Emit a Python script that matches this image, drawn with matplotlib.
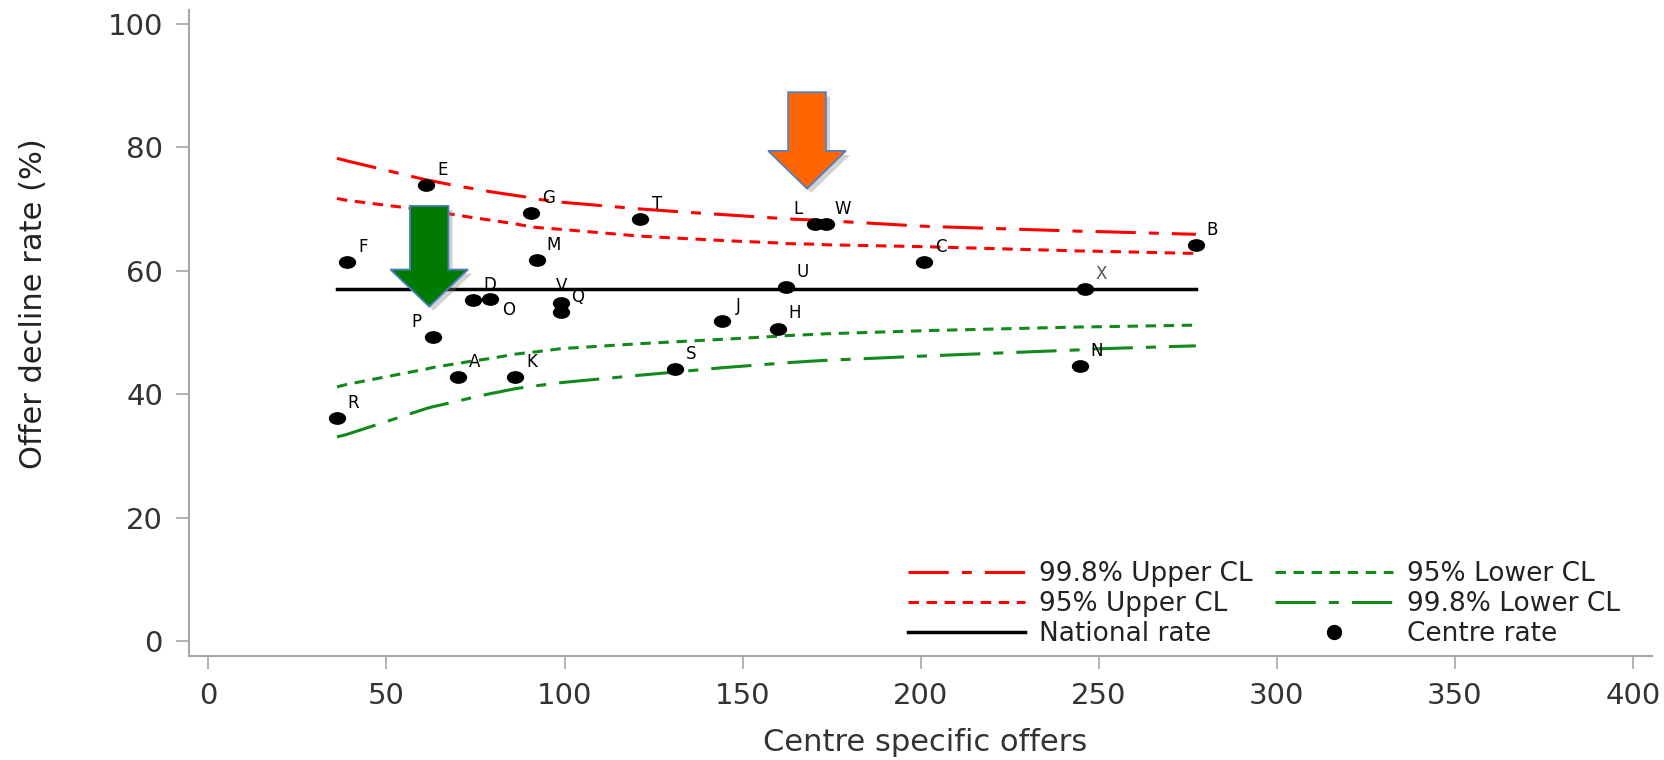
import matplotlib
matplotlib.use("Agg")
import numpy as np
import matplotlib.pyplot as plt
from matplotlib.path import Path
from matplotlib.patches import FancyArrow
from matplotlib.lines import Line2D
import matplotlib.patheffects as pe

plt.rcParams['font.family'] = ['DejaVu Sans']
plt.rcParams['lines.scale_dashes'] = False

# Centre-level data: number of offers and offer decline rate (%)
centres = ["R", "F", "E", "P", "A", "D", "O", "K", "G", "M", "V", "Q",
           "T", "S", "J", "H", "U", "L", "W", "C", "N", "X", "B"]
offers = [36.1, 38.8, 61.2, 63.1, 70.0, 74.3, 79.1, 86.1, 90.7, 92.3, 99.1, 99.1,
          121.3, 131.0, 144.2, 160.0, 162.2, 170.2, 173.5, 201.0, 244.7, 246.1, 277.3]
decline = [36.1, 61.45, 73.85, 49.2, 42.8, 55.2, 55.5, 42.8, 69.3, 61.7, 54.8, 53.35,
           68.35, 44.1, 51.9, 50.65, 57.3, 67.5, 67.5, 61.45, 44.6, 57.0, 64.1]

national_rate = 57.1

# Funnel control limits evaluated at each centre size
limit_offers = [36.1, 38.8, 61.2, 63.1, 70.0, 74.3, 79.1, 86.1, 90.7, 92.3, 99.1,
                121.3, 131.0, 144.2, 160.0, 162.2, 170.2, 173.5, 201.0, 244.7, 246.1, 277.3]
upper_998 = [78.2, 77.8, 74.7, 74.5, 73.7, 73.3, 72.8, 72.2, 71.8, 71.6, 71.1,
             70.0, 69.6, 69.1, 68.5, 68.4, 68.2, 68.1, 67.2, 66.4, 66.4, 65.9]
upper_95 = [71.7, 71.4, 69.8, 69.6, 69.0, 68.6, 68.2, 67.6, 67.1, 67.0, 66.7,
            65.6, 65.3, 64.9, 64.5, 64.4, 64.3, 64.2, 63.9, 63.2, 63.2, 62.8]
lower_95 = [41.2, 41.6, 44.1, 44.35, 45.0, 45.4, 45.8, 46.5, 46.8, 46.9, 47.4,
            48.2, 48.5, 48.9, 49.4, 49.5, 49.7, 49.8, 50.3, 50.9, 50.9, 51.2]
lower_998 = [33.1, 33.5, 37.7, 38.0, 38.9, 39.5, 40.1, 40.9, 41.3, 41.4, 41.9,
             43.1, 43.6, 44.3, 45.0, 45.1, 45.4, 45.5, 46.2, 47.2, 47.3, 47.85]

x_ticks = [0, 50, 100, 150, 200, 250, 300, 350, 400]
y_ticks = [0, 20, 40, 60, 80, 100]

# label offsets (points) for the centre letters
label_offset = {"P": (-12, 11), "L": (-12, 11), "V": (0, 12), "O": (13, -8)}
default_offset = (12, 11)

RED = "#ff0000"
GREEN = "#12891a"
AXIS_GREY = "#a6a6a6"
dash_998 = (0, (29, 9.4, 7.2, 9.4))
dash_95 = (0, (7.5, 5.5))

fig = plt.figure(figsize=(16.65, 7.6), dpi=100)
ax = fig.add_axes([0.1133, 0.1368, 0.9922 - 0.1133, 0.9868 - 0.1368])

h_u998, = ax.plot(limit_offers, upper_998, color=RED, lw=2.2, linestyle=dash_998)
h_u95, = ax.plot(limit_offers, upper_95, color=RED, lw=2.2, linestyle=dash_95)
h_nat, = ax.plot([limit_offers[0], limit_offers[-1]], [national_rate, national_rate],
                 color="black", lw=2.5)
h_l95, = ax.plot(limit_offers, lower_95, color=GREEN, lw=2.2, linestyle=dash_95)
h_l998, = ax.plot(limit_offers, lower_998, color=GREEN, lw=2.2, linestyle=dash_998)

# slightly wide dot marker
circ = Path.unit_circle()
dot = Path(circ.vertices * np.array([1.36, 1.0]), circ.codes)
ax.scatter(offers, decline, marker=dot, s=12.5 ** 2, color="black", zorder=5,
           linewidths=0)

for name, xv, yv in zip(centres, offers, decline):
    dx, dy = label_offset.get(name, default_offset)
    ax.annotate(name, (xv, yv), xytext=(dx, dy), textcoords="offset points",
                ha="center", va="center", fontsize=12,
                color="#555555" if name == "X" else "black", zorder=6)

# highlight arrows
shadow = [pe.SimplePatchShadow(offset=(3, -3), shadow_rgbFace="#808080", alpha=0.35),
          pe.Normal()]
green_arrow = FancyArrow(62.0, 70.5, 0, -(70.5 - 54.2), width=10.8,
                         head_width=21.8, head_length=6.0,
                         length_includes_head=True, facecolor="#007a00",
                         edgecolor="#4f7fc4", linewidth=1.3, zorder=8)
green_arrow.set_path_effects(shadow)
ax.add_patch(green_arrow)
orange_arrow = FancyArrow(168.1, 88.9, 0, -(88.9 - 73.3), width=10.6,
                          head_width=21.8, head_length=6.1,
                          length_includes_head=True, facecolor="#ff6600",
                          edgecolor="#4f7fc4", linewidth=1.3, zorder=8)
orange_arrow.set_path_effects(shadow)
ax.add_patch(orange_arrow)

ax.set_xlim(-5.56, 405.4)
ax.set_ylim(-2.36, 102.2)
ax.set_xticks(x_ticks)
ax.set_yticks(y_ticks)
for side in ("top", "right"):
    ax.spines[side].set_visible(False)
for side in ("left", "bottom"):
    ax.spines[side].set_color(AXIS_GREY)
    ax.spines[side].set_linewidth(1.5)
ax.tick_params(axis="both", which="major", direction="out", length=9.5, width=1.2,
               color=AXIS_GREY, labelsize=21, labelcolor="#333333", pad=9)

ax.set_xlabel("Centre specific offers", fontsize=22, color="#333333")
ax.set_ylabel("Offer decline rate (%)", fontsize=22, color="#222222")
ax.xaxis.set_label_coords(0.503, -0.147)
ax.xaxis.label.set_va("baseline")
ax.yaxis.set_label_coords(-0.096, 0.546)

centre_handle = Line2D([], [], marker="o", linestyle="none", color="black",
                       markersize=10)
handles = [h_u998, h_u95, h_nat, h_l95, h_l998, centre_handle]
labels = ["99.8% Upper CL", "95% Upper CL", "National rate",
          "95% Lower CL", "99.8% Lower CL", "Centre rate"]
fig.legend(handles, labels, ncol=2, loc="upper left",
           bbox_to_anchor=(908 / 1665, (760 - 561) / 760),
           bbox_transform=fig.transFigure, frameon=False, fontsize=19,
           handlelength=4.45, handletextpad=0.53, columnspacing=0.85,
           labelspacing=0.16, borderpad=0, borderaxespad=0,
           labelcolor="#222222")

fig.savefig("out.png", dpi=100)
